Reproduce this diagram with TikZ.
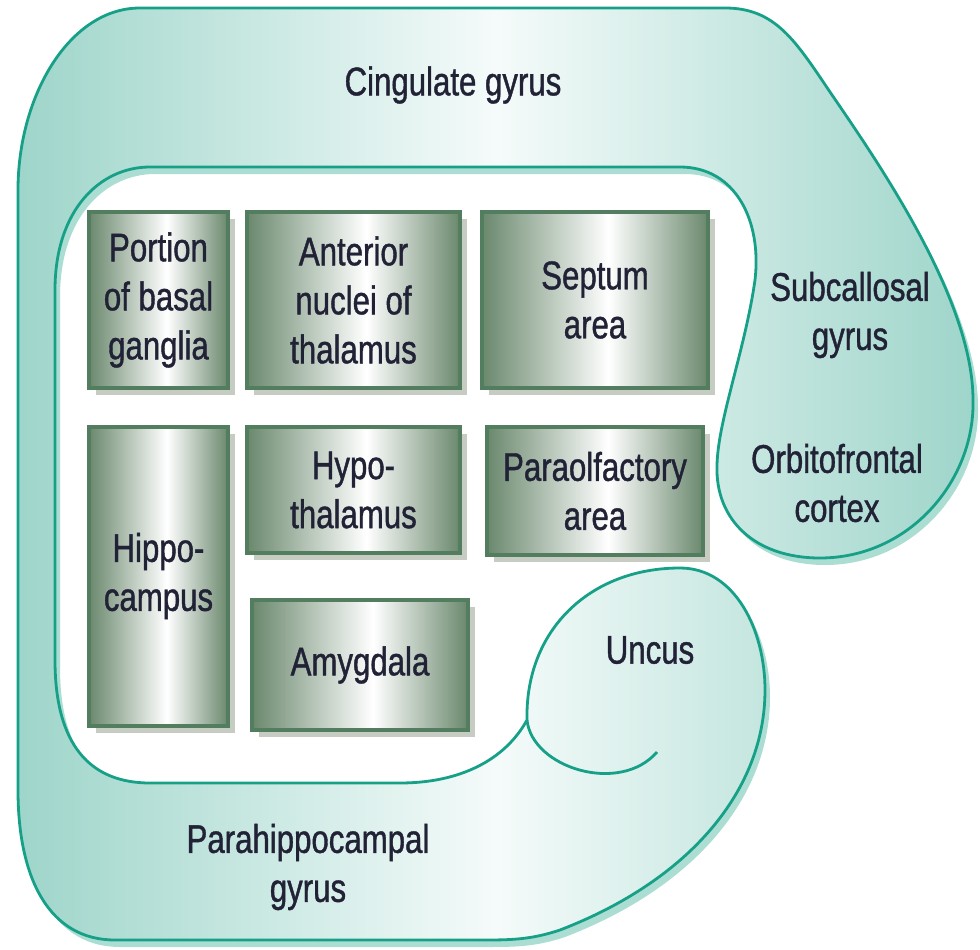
\documentclass[tikz,border=0pt]{standalone}
\usepackage{fontspec}
\setmainfont{Liberation Sans}[FakeStretch=0.78, FakeBold=1]
\usetikzlibrary{shadows}

\definecolor{gyrusfill}{HTML}{9ED5CA}
\definecolor{gyrusmid}{HTML}{F5FBFA}
\definecolor{gyrusline}{HTML}{17A088}
\definecolor{gyrusshadow}{HTML}{ACDDD3}
\definecolor{boxedge}{HTML}{6A886D}
\definecolor{boxline}{HTML}{527D5E}
\definecolor{boxshadow}{HTML}{C7CCC2}
\definecolor{labeltext}{HTML}{222236}
\pgfdeclarehorizontalshading{boxshade}{100bp}{color(0bp)=(boxedge); color(25bp)=(boxedge); color(53bp)=(white); color(75bp)=(boxedge); color(100bp)=(boxedge)}

\begin{document}
\begin{tikzpicture}[x=1pt, y=-1pt,
    every node/.style={font=\fontsize{40}{49}\selectfont, text=labeltext, align=center},
    region/.style={shading=boxshade, draw=boxline, line width=4pt, inner sep=0pt,
      drop shadow={shadow xshift=7pt, shadow yshift=-7pt, fill=boxshadow, opacity=1}},
    gyrus/.style={draw=gyrusline, line width=2.8pt, left color=gyrusfill,
      right color=gyrusfill, middle color=gyrusmid,
      drop shadow={shadow xshift=5pt, shadow yshift=-7pt, fill=gyrusshadow, opacity=1}}]
  \useasboundingbox (0,0) rectangle (980,950);
  \fill[white] (0,0) rectangle (980,950);

  % limbic lobe outline
  \coordinate (hook) at (527,720);
  \path[gyrus] (hook)
    .. controls (525,630) and (590,568) .. (680,568)
    .. controls (735,568) and (765,630) .. (765,690)
    .. controls (765,790) and (690,880) .. (560,930)
    .. controls (530,940) and (510,940) .. (480,940)
    -- (115,940)
    .. controls (50,940) and (18,880) .. (18,790)
    -- (18,190)
    .. controls (18,95) and (70,8) .. (140,8)
    -- (725,8)
    .. controls (775,8) and (795,40) .. (830,92)
    .. controls (880,165) and (973,300) .. (973,400)
    .. controls (975,480) and (910,558) .. (820,558)
    .. controls (755,558) and (715,520) .. (717,465)
    .. controls (718,420) and (745,350) .. (755,280)
    .. controls (762,220) and (735,167) .. (680,167)
    -- (150,167)
    .. controls (100,167) and (55,210) .. (55,290)
    -- (55,660)
    .. controls (55,745) and (90,783) .. (150,783)
    -- (400,783)
    .. controls (460,783) and (505,760) .. (hook) -- cycle;
  \coordinate (hookend) at (657,752);
  \draw[gyrusline, line width=2.8pt] (hook) .. controls (532,768) and (620,795) .. (hookend);

  % gyrus labels
  \node (cingulate) at (453,85) {Cingulate gyrus};
  \node (subcallosal) at (850,315) {Subcallosal\\gyrus};
  \node (orbito) at (837,483) {Orbitofrontal\\cortex};
  \node (uncus) at (650,650) {Uncus};
  \node (parahippo) at (308,867) {Parahippocampal\\gyrus};

  % inner structures
  \foreach \name/\cx/\cy/\w/\h/\txt in {
      basal/158.5/300/139/176/{Portion\\of basal\\ganglia},
      anterior/353.5/300/213/176/{Anterior\\nuclei of\\thalamus},
      septum/595/300/226/176/{Septum\\area},
      hippo/158.5/576/139/299/{Hippo-\\campus},
      hypo/353.5/490/213/126/{Hypo-\\thalamus},
      paraolf/595/491/216/128/{Paraolfactory\\area},
      amygdala/360/665/216/130/{Amygdala}} {
    \node[region, minimum width=\w pt, minimum height=\h pt] (\name) at (\cx,\cy) {\txt};
  }
\end{tikzpicture}
\end{document}
